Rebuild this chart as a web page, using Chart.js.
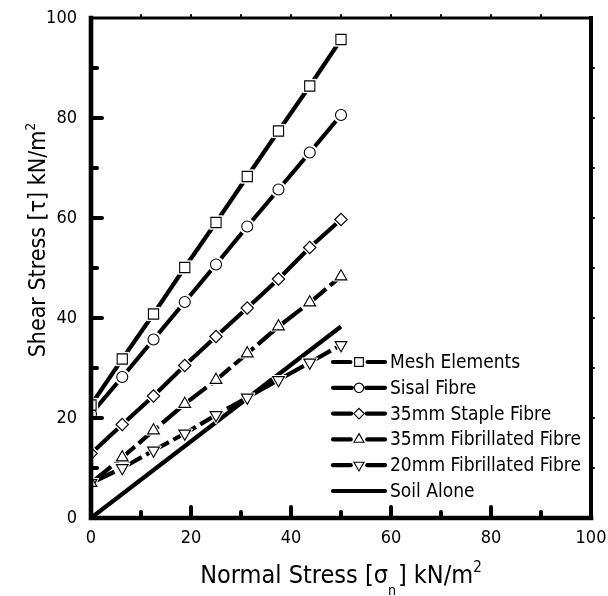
<!DOCTYPE html>
<html><head><meta charset="utf-8">
<script src="https://cdn.jsdelivr.net/npm/chart.js@4.4.1/dist/chart.umd.min.js"></script>
<style>html,body{margin:0;padding:0;background:#fff}#wrap{width:608px;height:596px}</style>
</head><body><div id="wrap"><canvas id="c" width="608" height="596"></canvas></div>
<script>
const FONT = '"DejaVu Sans Condensed", "DejaVu Sans", sans-serif';

// ---- data ----
const xValues = [0, 6.25, 12.5, 18.75, 25, 31.25, 37.5, 43.75, 50];
const meshElements     = [22.6, 31.8, 40.8, 50.1, 59.1, 68.3, 77.4, 86.4, 95.7];
const sisalFibre       = [20.8, 28.2, 35.7, 43.2, 50.7, 58.3, 65.7, 73.1, 80.6];
const stapleFibre35    = [12.9, 18.7, 24.4, 30.5, 36.3, 42.0, 47.8, 54.1, 59.7];
const fibrillated35    = [7.0, 12.1, 17.5, 22.8, 27.6, 32.9, 38.3, 43.1, 48.3];
const fibrillated20    = [7.0, 10.0, 13.5, 16.9, 20.6, 24.1, 27.6, 31.1, 34.6];
const soilX            = [0, 50];
const soilAlone        = [0, 38.3];
const seriesNames = ['Mesh Elements', 'Sisal Fibre', '35mm Staple Fibre',
                     '35mm Fibrillated Fibre', '20mm Fibrillated Fibre', 'Soil Alone'];
const xTickValues = [0, 20, 40, 60, 80, 100];
const yTickValues = [0, 20, 40, 60, 80, 100];

const seriesData = [
  [xValues, meshElements], [xValues, sisalFibre], [xValues, stapleFibre35],
  [xValues, fibrillated35], [xValues, fibrillated20], [soilX, soilAlone]
];
const markerStyles = [
  {pointStyle: 'rect', radius: 7.2, rotation: 0, dash: []},
  {pointStyle: 'circle', radius: 5.5, rotation: 0, dash: []},
  {pointStyle: 'rectRot', radius: 6.2, rotation: 0, dash: []},
  {pointStyle: 'triangle', radius: 6.8, rotation: 0, dash: [26, 5]},
  {pointStyle: 'triangle', radius: 6.8, rotation: 180, dash: [26, 5]},
  {pointStyle: false, radius: 0, rotation: 0, dash: []}
];

const datasets = [];
seriesData.forEach(([xs, ys], i) => {
  const pts = xs.map((x, k) => ({x: x, y: ys[k]}));
  const st = markerStyles[i];
  datasets.push({label: seriesNames[i], data: pts, showLine: true, borderColor: '#000',
    borderWidth: 4.2, borderDash: st.dash, pointRadius: 0, order: 3, fill: false});
  if (st.pointStyle) {
    datasets.push({label: '_halo' + i, data: pts, showLine: false, pointStyle: st.pointStyle,
      rotation: st.rotation, pointRadius: st.radius + 2.2, pointBackgroundColor: '#fff',
      pointBorderColor: '#fff', pointBorderWidth: 1, order: 2});
    datasets.push({label: '_mark' + i, data: pts, showLine: false, pointStyle: st.pointStyle,
      rotation: st.rotation, pointRadius: st.radius, pointBackgroundColor: '#fff',
      pointBorderColor: '#000', pointBorderWidth: 1.1, order: 1});
  }
});

function drawRich(ctx, parts, x, y) {
  let w = 0;
  parts.forEach(p => { ctx.font = p.s + 'px ' + FONT; p.w = ctx.measureText(p.t).width; w += p.w + (p.gap || 0); });
  let cx = x - w / 2;
  parts.forEach(p => {
    ctx.font = p.s + 'px ' + FONT;
    ctx.fillText(p.t, cx, y + (p.dy || 0));
    cx += p.w + (p.gap || 0);
  });
}

const framePlugin = {
  id: 'frame',
  afterDatasetsDraw(chart) {
    const ctx = chart.ctx, a = chart.chartArea;
    const xs = chart.scales.x, ys = chart.scales.y;
    ctx.save();
    ctx.strokeStyle = '#000';
    ctx.lineCap = 'square';
    ctx.lineWidth = 3; ctx.beginPath(); ctx.moveTo(a.left, a.top); ctx.lineTo(a.right, a.top); ctx.stroke();
    ctx.lineWidth = 4; ctx.beginPath(); ctx.moveTo(a.right, a.top); ctx.lineTo(a.right, a.bottom); ctx.stroke();
    ctx.lineWidth = 4.6;
    ctx.beginPath(); ctx.moveTo(a.left, a.top); ctx.lineTo(a.left, a.bottom); ctx.lineTo(a.right, a.bottom); ctx.stroke();
    ctx.lineCap = 'round';
    for (let v = 10; v < 100; v += 10) {
      const major = v % 20 === 0;
      const len = major ? 11 : 6;
      const px = xs.getPixelForValue(v), py = ys.getPixelForValue(v);
      ctx.lineWidth = 4;
      ctx.beginPath(); ctx.moveTo(px, a.bottom); ctx.lineTo(px, a.bottom - len); ctx.stroke();
      ctx.beginPath(); ctx.moveTo(a.left, py); ctx.lineTo(a.left + len, py); ctx.stroke();
      ctx.lineWidth = 2;
      ctx.beginPath(); ctx.moveTo(px, a.top); ctx.lineTo(px, a.top - 3); ctx.stroke();
      ctx.beginPath(); ctx.moveTo(a.right, py); ctx.lineTo(a.right + 3, py); ctx.stroke();
    }
    ctx.restore();
  },
  afterDraw(chart) {
    const ctx = chart.ctx;
    ctx.save();
    ctx.fillStyle = '#000';
    ctx.textBaseline = 'alphabetic';
    drawRich(ctx, [
      {t: 'Normal Stress [\u03C3', s: 25},
      {t: 'n', s: 14, dy: 12, gap: 2},
      {t: '] kN/m', s: 25},
      {t: '2', s: 15, dy: -11}
    ], 341, 583);
    ctx.translate(45, 240);
    ctx.rotate(-Math.PI / 2);
    drawRich(ctx, [
      {t: 'Shear Stress [\u03C4] kN/m', s: 23},
      {t: '2', s: 14, dy: -10}
    ], 0, 0);
    ctx.restore();

    // legend
    ctx.save();
    const rowY0 = 362, rowStep = 25.8, lx0 = 333, lx1 = 385, mx = 359;
    seriesNames.forEach((name, i) => {
      const y = rowY0 + i * rowStep;
      const st = markerStyles[i];
      ctx.strokeStyle = '#000'; ctx.lineWidth = 4.2; ctx.lineCap = 'round'; ctx.setLineDash([]);
      if (st.pointStyle) {
        const g = st.radius * 0.85 + 2.5;
        ctx.beginPath(); ctx.moveTo(lx0, y); ctx.lineTo(mx - g, y); ctx.stroke();
        ctx.beginPath(); ctx.moveTo(mx + g, y); ctx.lineTo(lx1, y); ctx.stroke();
        ctx.fillStyle = '#fff'; ctx.strokeStyle = '#000'; ctx.lineWidth = 1.1;
        Chart.helpers.drawPoint(ctx, {pointStyle: st.pointStyle, rotation: st.rotation,
          radius: st.radius * 0.85, borderWidth: 1.1}, mx, y);
      } else {
        ctx.beginPath(); ctx.moveTo(lx0, y); ctx.lineTo(lx1, y); ctx.stroke();
      }
      ctx.fillStyle = '#000';
      ctx.font = '19px ' + FONT;
      ctx.textBaseline = 'middle';
      ctx.fillText(name, 390, y + 1);
    });
    ctx.restore();
  }
};

new Chart(document.getElementById('c'), {
  type: 'scatter',
  data: {datasets: datasets},
  plugins: [framePlugin],
  options: {
    responsive: false, animation: false, devicePixelRatio: 1,
    layout: {padding: {left: 0, right: 17, top: 18, bottom: 0}},
    plugins: {legend: {display: false}, tooltip: {enabled: false}},
    scales: {
      x: {type: 'linear', min: 0, max: 100,
        afterFit(s) { s.height = 78; s.paddingLeft = 0; s.paddingRight = 0; },
        afterBuildTicks(s) { s.ticks = xTickValues.map(v => ({value: v})); },
        grid: {display: false, drawTicks: false}, border: {display: false},
        ticks: {padding: 10, color: '#000', font: {family: FONT, size: 18}, maxRotation: 0}},
      y: {type: 'linear', min: 0, max: 100,
        afterFit(s) { s.width = 91; s.paddingTop = 0; s.paddingBottom = 0; },
        afterBuildTicks(s) { s.ticks = yTickValues.map(v => ({value: v})); },
        grid: {display: false, drawTicks: false}, border: {display: false},
        ticks: {padding: 14, color: '#000', font: {family: FONT, size: 18}}}
    }
  }
});
</script></body></html>
